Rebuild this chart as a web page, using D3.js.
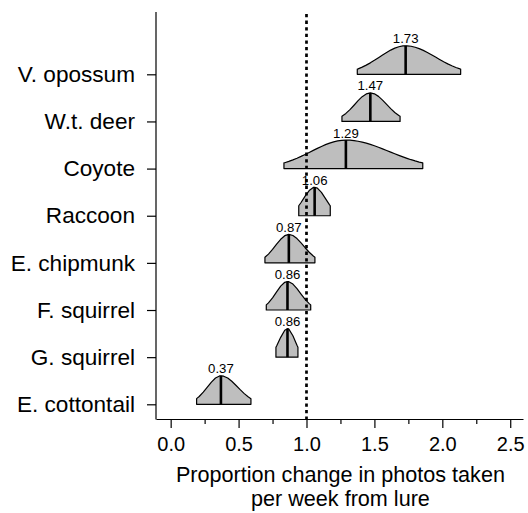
<!DOCTYPE html>
<html><head><meta charset="utf-8">
<script src="https://cdn.jsdelivr.net/npm/d3@7"></script>
<style>
body{margin:0;background:#fff}
text{font-family:"Liberation Sans",Arial,Helvetica,sans-serif;fill:#000}
</style>
</head><body>
<svg id="c" width="528" height="513"></svg>
<script>
// ---- data ----
const species = ["V. opossum","W.t. deer","Coyote","Raccoon","E. chipmunk","F. squirrel","G. squirrel","E. cottontail"];
const medians = [1.73,1.47,1.29,1.06,0.87,0.86,0.86,0.37];
const lower   = [1.374,1.261,0.834,0.943,0.694,0.704,0.775,0.191];
const upper   = [2.135,1.689,1.856,1.175,1.062,1.031,0.937,0.591];
const tailZ   = [1.85,1.85,1.8,1.45,1.8,1.85,1.45,1.8];
const xTicks  = [0,0.25,0.5,0.75,1,1.25,1.5,1.75,2,2.25,2.5];
const xTickLabels = ["0.0","","0.5","","1.0","","1.5","","2.0","","2.5"];
const refValue = 1;
const titleLines = ["Proportion change in photos taken","per week from lure"];

// ---- layout ----
const svg = d3.select("#c");
const x = d3.scaleLinear().domain([-0.108, 2.594]).range([156, 523]);
const y = d3.scalePoint().domain(species).range([74.3, 404.3]);
const axisY = 419, topY = 12, H = 28.5;

// distributions
const gStep = 0.03;
species.forEach((s, i) => {
  const med = medians[i], lo = lower[i], hi = upper[i], z = tailZ[i];
  const sL = (med - lo) / z, sR = (hi - med) / z;
  const f = v => v < med ? Math.exp(-0.5 * ((v - med) / sL) ** 2) : Math.exp(-0.5 * ((v - med) / sR) ** 2);
  let pts = [lo, med, hi];
  for (let g = Math.ceil(lo / gStep) * gStep; g < hi; g += gStep) if (g > lo) pts.push(g);
  pts = Array.from(new Set(pts.map(v => +v.toFixed(5)))).sort((a, b) => a - b);
  const base = y(s);
  const area = d3.area().x(d => x(d)).y0(base).y1(d => base - H * f(d));
  svg.append("path").attr("d", area(pts) + "Z")
    .attr("fill", "#bebebe").attr("stroke", "#000").attr("stroke-width", 1.2).attr("stroke-linejoin", "round");
  svg.append("line").attr("x1", x(med)).attr("x2", x(med)).attr("y1", base).attr("y2", base - H)
    .attr("stroke", "#000").attr("stroke-width", 2.6);
  svg.append("text").attr("x", x(med)).attr("y", base - H - 2.5).attr("text-anchor", "middle")
    .attr("font-size", 13.2).text(d3.format(".2f")(med));
});

// reference line
svg.append("line").attr("x1", x(refValue)).attr("x2", x(refValue)).attr("y1", 14).attr("y2", axisY)
  .attr("stroke", "#000").attr("stroke-width", 2.7).attr("stroke-dasharray", "3.3,3.3");

// x axis
const gx = svg.append("g").attr("transform", `translate(0,${axisY})`)
  .call(d3.axisBottom(x).tickValues(xTicks).tickSize(9).tickSizeOuter(0).tickPadding(8.8)
    .tickFormat((d, i) => xTickLabels[i]));
gx.selectAll(".tick line").attr("y2", (d, i) => xTickLabels[i] === "" ? 5 : 9).attr("stroke-width", 1.2);
gx.select(".domain").attr("stroke-width", 1.2);
gx.selectAll("text").attr("font-size", 20).attr("font-family", null);

// y axis
const gy = svg.append("g").attr("transform", `translate(156,0)`)
  .call(d3.axisLeft(y).tickSize(9).tickPadding(12));
gy.select(".domain").remove();
gy.selectAll(".tick line").attr("stroke-width", 1.2);
gy.selectAll("text").attr("font-size", 22.6).attr("font-family", null);
svg.append("line").attr("x1", 156).attr("x2", 156).attr("y1", topY).attr("y2", axisY + 0.6)
  .attr("stroke", "#000").attr("stroke-width", 1.2);

// title
svg.append("g").selectAll("text").data(titleLines).join("text")
  .attr("x", (x(0) + x(2.5)) / 2).attr("y", (d, i) => 481.5 + i * 24.2)
  .attr("text-anchor", "middle").attr("font-size", 21.6).text(d => d);
</script>
</body></html>
